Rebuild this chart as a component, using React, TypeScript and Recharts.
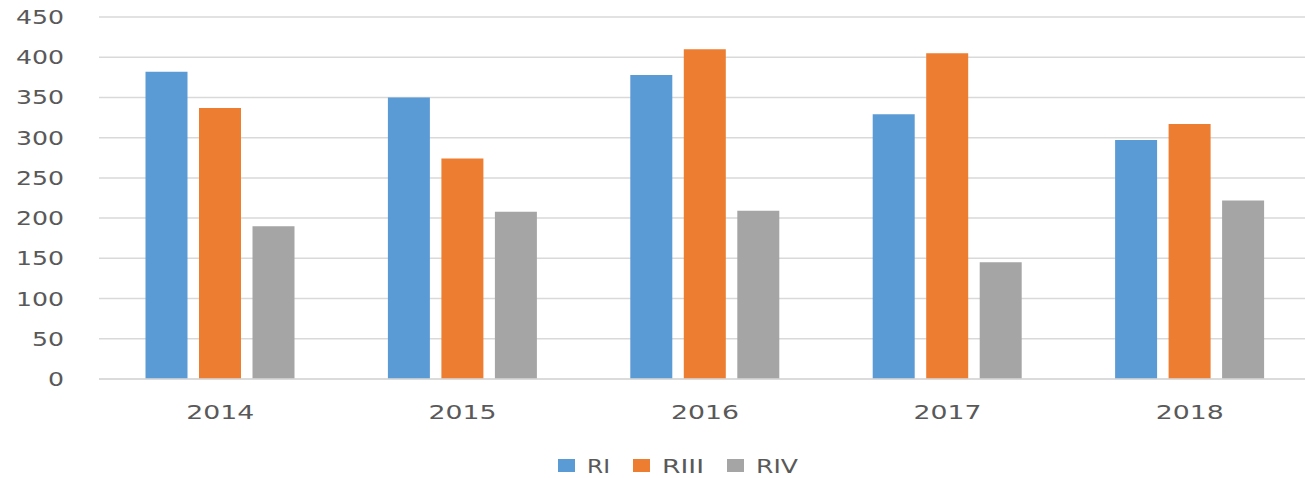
import React from "react";
import {
  BarChart,
  Bar,
  XAxis,
  YAxis,
  CartesianGrid,
  Legend,
} from "recharts";

const years = ["2014", "2015", "2016", "2017", "2018"];
const riValues = [382, 350, 378, 329, 297];
const riiiValues = [337, 274, 410, 405, 317];
const rivValues = [190, 208, 209, 145, 222];
const yTicks = [0, 50, 100, 150, 200, 250, 300, 350, 400, 450];

const seriesInfo = [
  { key: "RI", color: "#5B9BD5", textLen: 23 },
  { key: "RIII", color: "#ED7D31", textLen: 42 },
  { key: "RIV", color: "#A5A5A5", textLen: 42 },
];

const data = years.map((year, i) => ({
  year,
  RI: riValues[i],
  RIII: riiiValues[i],
  RIV: rivValues[i],
}));

const FONT = "'DejaVu Sans', sans-serif";
const TEXT_COLOR = "#595959";

function YTick({ x, y, payload }: any) {
  const label = String(payload.value);
  return (
    <text
      x={x - 33}
      y={y}
      textAnchor="end"
      dominantBaseline="central"
      fill={TEXT_COLOR}
      fontSize={19}
      fontFamily={FONT}
      textLength={label.length * 16}
      lengthAdjust="spacingAndGlyphs"
    >
      {label}
    </text>
  );
}

function XTick({ x, y, payload }: any) {
  const label = String(payload.value);
  return (
    <text
      x={x}
      y={y + 31}
      textAnchor="middle"
      dominantBaseline="central"
      fill={TEXT_COLOR}
      fontSize={20}
      fontFamily={FONT}
      textLength={label.length * 17}
      lengthAdjust="spacingAndGlyphs"
    >
      {label}
    </text>
  );
}

function LegendRow() {
  let cx = 558;
  const items = seriesInfo.map((s) => {
    const sqX = cx;
    const txtX = sqX + 29;
    cx = txtX + s.textLen + 23;
    return (
      <g key={s.key}>
        <rect x={sqX} y={30} width={17} height={13} fill={s.color} />
        <text
          x={txtX}
          y={37}
          dominantBaseline="central"
          fill={TEXT_COLOR}
          fontSize={19}
          fontFamily={FONT}
          textLength={s.textLen}
          lengthAdjust="spacingAndGlyphs"
        >
          {s.key}
        </text>
      </g>
    );
  });
  return (
    <svg width={1311} height={49} style={{ display: "block" }}>
      {items}
    </svg>
  );
}

export default function App() {
  return (
    <div
      style={{
        position: "absolute",
        left: 0,
        top: 0,
        width: 1305,
        height: 478,
        overflow: "hidden",
        background: "#fff",
      }}
    >
      <BarChart
        width={1311}
        height={478}
        data={data}
        margin={{ top: 17, right: 0, bottom: 0, left: 0 }}
        barCategoryGap={46.5}
        barGap={11.5}
      >
        <CartesianGrid vertical={false} stroke="#d9d9d9" strokeWidth={1.5} />
        <XAxis
          dataKey="year"
          height={50}
          tickLine={false}
          tickSize={0}
          axisLine={{ stroke: "#d9d9d9", strokeWidth: 1.5 }}
          tick={<XTick />}
          interval={0}
        />
        <YAxis
          width={99}
          domain={[0, 450]}
          ticks={yTicks}
          tickLine={false}
          tickSize={0}
          axisLine={false}
          tick={<YTick />}
          interval={0}
        />
        <Legend
          verticalAlign="bottom"
          height={49}
          wrapperStyle={{ left: 0, width: 1311 }}
          content={() => <LegendRow />}
        />
        {seriesInfo.map((s) => (
          <Bar
            key={s.key}
            dataKey={s.key}
            fill={s.color}
            isAnimationActive={false}
          />
        ))}
      </BarChart>
    </div>
  );
}
